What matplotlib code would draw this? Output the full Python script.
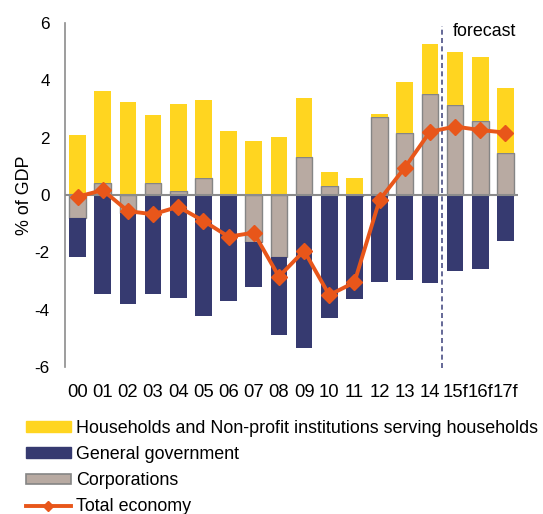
import numpy as np
import matplotlib
matplotlib.use("Agg")
import matplotlib.pyplot as plt
from matplotlib.patches import Patch
from matplotlib.lines import Line2D

plt.rcParams['font.family'] = ['Liberation Sans', 'DejaVu Sans']

categories = ["00", "01", "02", "03", "04", "05", "06", "07", "08", "09",
              "10", "11", "12", "13", "14", "15f", "16f", "17f"]
households = [2.09, 3.21, 3.23, 2.35, 3.04, 2.72, 2.23, 1.87, 2.02, 2.04,
              0.47, 0.58, 0.10, 1.75, 1.74, 1.85, 2.22, 2.26]
government = [-1.35, -3.44, -3.16, -3.45, -3.59, -4.22, -3.70, -1.57, -2.72, -5.31,
              -4.27, -3.57, -3.01, -2.97, -3.07, -2.63, -2.56, -1.59]
corporations = [-0.79, 0.41, -0.64, 0.43, 0.14, 0.60, 0.0, -1.62, -2.15, 1.32,
                0.32, -0.05, 2.72, 2.17, 3.50, 3.14, 2.58, 1.47]
total = [-0.06, 0.17, -0.56, -0.67, -0.41, -0.90, -1.45, -1.31, -2.84, -1.94,
         -3.48, -3.04, -0.17, 0.95, 2.20, 2.38, 2.26, 2.17]
forecast_after = "14"

C_HH = "#FFD520"
C_GOV = "#363A70"
C_CORP = "#B8AAA2"
C_CORP_EDGE = "#858585"
C_TOT = "#E8561A"
C_AXIS = "#8C8C8C"

fs = 12.9
fs_x = 13.3
fs_y = 12.3
fig = plt.figure(figsize=(5.43, 5.14), dpi=100)
ax = fig.add_axes([65/543, 1-367.5/514, (518-65)/543, (367.5-22.5)/514])

x = np.arange(len(categories))
w = 0.66
pos_bottom = np.zeros(len(x))
neg_bottom = np.zeros(len(x))
series = [(corporations, C_CORP, C_CORP_EDGE, 1.0),
          (government, C_GOV, C_GOV, 0.0),
          (households, C_HH, C_HH, 0.0)]
for vals, col, ec, lw in series:
    v = np.array(vals)
    bottoms = np.where(v >= 0, pos_bottom, neg_bottom)
    ax.bar(x, v, width=w, bottom=bottoms, color=col, edgecolor=ec,
           linewidth=lw, zorder=2)
    pos_bottom = pos_bottom + np.where(v >= 0, v, 0)
    neg_bottom = neg_bottom + np.where(v < 0, v, 0)

ax.axhline(0, color=C_AXIS, lw=1.5, zorder=3)
ax.plot(x, total, color=C_TOT, lw=2.8, marker='D', markersize=8.5,
        markeredgecolor=C_TOT, zorder=4)

fx = categories.index(forecast_after) + 0.5
ax.axvline(fx, ymin=0, ymax=0.99, color="#4A4F85", lw=1.2,
           linestyle=(0, (3, 2)), zorder=3)
ax.text(fx + 0.4, 5.7, "forecast", fontsize=fs, ha='left', va='center')

ax.set_xlim(-0.5, len(x) - 0.5)
ax.set_ylim(-6, 6)
ax.set_yticks([-6, -4, -2, 0, 2, 4, 6])
ax.set_yticklabels(["-6", "-4", "-2", "0", "2", "4", "6"])
ax.set_xticks(x)
ax.set_xticklabels(categories)
ax.tick_params(axis='y', length=0, labelsize=fs_y, pad=11)
ax.tick_params(axis='x', length=0, labelsize=fs_x, pad=12)
for s in ['top', 'right', 'bottom']:
    ax.spines[s].set_visible(False)
ax.spines['left'].set_color(C_AXIS)
ax.spines['left'].set_linewidth(1.2)
ax.set_ylabel("% of GDP", fontsize=fs, labelpad=1)

handles = [Patch(facecolor=C_HH, edgecolor=C_HH),
           Patch(facecolor=C_GOV, edgecolor=C_GOV),
           Patch(facecolor=C_CORP, edgecolor=C_CORP_EDGE, linewidth=1.2),
           Line2D([0], [0], color=C_TOT, lw=2.8, marker='D', markersize=5)]
labels = ["Households and Non-profit institutions serving households",
          "General government", "Corporations", "Total economy"]
fig.legend(handles, labels, loc='upper left', bbox_to_anchor=(26/543, 1-420/514),
           frameon=False, fontsize=fs, handlelength=2.51, handleheight=0.55,
           handletextpad=0.28, labelspacing=0.51, borderpad=0, borderaxespad=0)

fig.savefig("out.png", dpi=100)
